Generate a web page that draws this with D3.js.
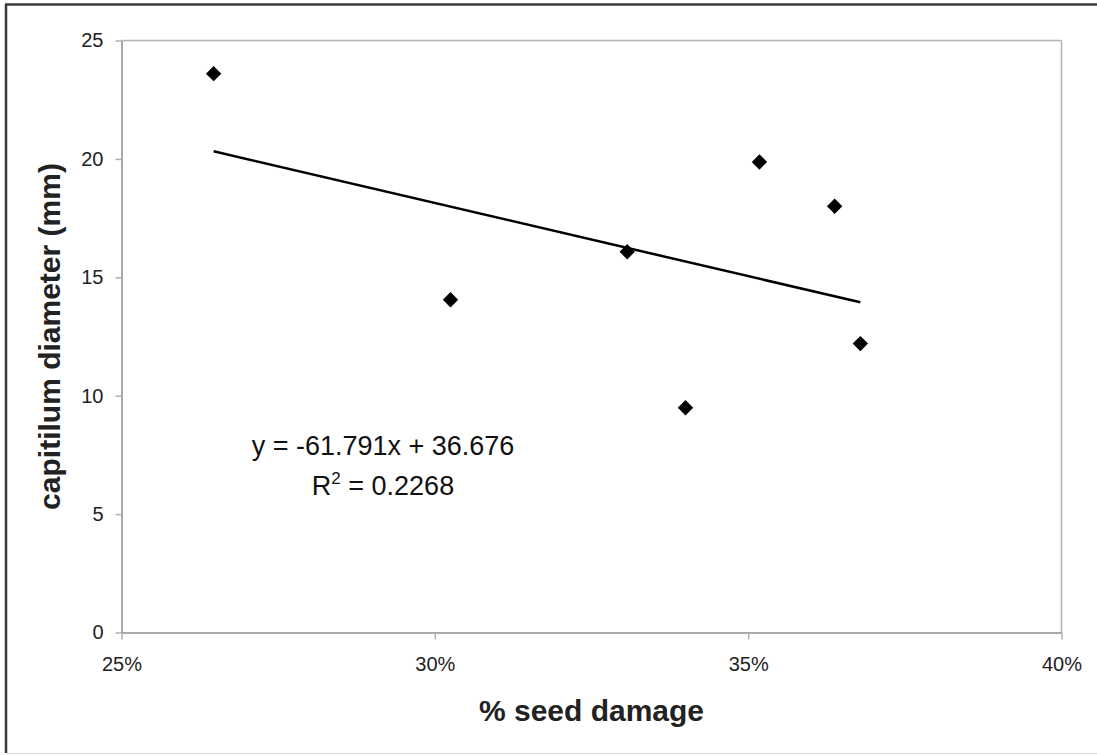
<!DOCTYPE html>
<html>
<head>
<meta charset="utf-8">
<script src="https://cdn.jsdelivr.net/npm/d3@7"></script>
<style>
  html, body { margin: 0; padding: 0; background: #fff; }
  svg { display: block; font-family: "Liberation Sans", Arial, sans-serif; }
</style>
</head>
<body>
<svg id="chart" width="1097" height="755"></svg>
<script>
// Seed damage fraction vs capitulum diameter (mm)
const seedDamage = [0.2647, 0.3025, 0.3307, 0.3400, 0.3518, 0.3638, 0.3679];
const diameter   = [23.6, 14.05, 16.08, 9.49, 19.87, 18.0, 12.2];

// Linear trend y = slope * x + intercept
const slope = -61.791;
const intercept = 36.676;
const rSquared = "0.2268";

const xTicks = [0.25, 0.30, 0.35, 0.40];
const yTicks = [0, 5, 10, 15, 20, 25];

const svg = d3.select("#chart");
const W = 1097, H = 755;
const plot = { left: 121.5, top: 40.5, right: 1061.5, bottom: 632.5 };
const FONT = "'Liberation Sans', Arial, sans-serif";

// Outer frame
svg.append("line").attr("x1", 6).attr("y1", 4).attr("x2", 6).attr("y2", 753)
  .attr("stroke", "#3a3a3a").attr("stroke-width", 2.5);
svg.append("line").attr("x1", 5).attr("y1", 4.5).attr("x2", W).attr("y2", 4.5)
  .attr("stroke", "#3a3a3a").attr("stroke-width", 2.5);
svg.append("line").attr("x1", 7).attr("y1", 753.5).attr("x2", W).attr("y2", 753.5)
  .attr("stroke", "#d8d8d8").attr("stroke-width", 1);

const x = d3.scaleLinear().domain([0.25, 0.40]).range([plot.left, plot.right]);
const y = d3.scaleLinear().domain([0, 25]).range([plot.bottom, plot.top]);

// Plot area border (top & right lighter)
svg.append("line").attr("x1", plot.left).attr("x2", plot.right)
  .attr("y1", plot.top).attr("y2", plot.top)
  .attr("stroke", "#b4b4b4").attr("stroke-width", 1.5);
svg.append("line").attr("x1", plot.right).attr("x2", plot.right)
  .attr("y1", plot.top).attr("y2", plot.bottom)
  .attr("stroke", "#b4b4b4").attr("stroke-width", 1.5);

// Axes
const tickFont = "20px";
const xAxis = d3.axisBottom(x).tickValues(xTicks)
  .tickFormat(d3.format(".0%")).tickSizeInner(7).tickSizeOuter(0).tickPadding(17);
const gx = svg.append("g").attr("transform", `translate(0,${plot.bottom})`).call(xAxis);
gx.select(".domain").attr("stroke", "#8c8c8c").attr("stroke-width", 1.5);
gx.selectAll(".tick line").attr("stroke", "#b0b0b0").attr("stroke-width", 1.5);
gx.selectAll(".tick text").attr("fill", "#222").style("font-size", tickFont)
  .style("font-family", FONT);

const yAxis = d3.axisLeft(y).tickValues(yTicks)
  .tickSizeInner(6).tickSizeOuter(0).tickPadding(12);
const gy = svg.append("g").attr("transform", `translate(${plot.left},0)`).call(yAxis);
gy.select(".domain").attr("stroke", "#8c8c8c").attr("stroke-width", 1.5);
gy.selectAll(".tick line").attr("stroke", "#b0b0b0").attr("stroke-width", 1.5);
gy.selectAll(".tick text").attr("fill", "#222").style("font-size", tickFont)
  .style("font-family", FONT);

// Trend line over the data's x range
const xMin = d3.min(seedDamage), xMax = d3.max(seedDamage);
svg.append("line")
  .attr("x1", x(xMin)).attr("y1", y(slope * xMin + intercept))
  .attr("x2", x(xMax)).attr("y2", y(slope * xMax + intercept))
  .attr("stroke", "#000").attr("stroke-width", 2.5);

// Diamond markers
const pts = seedDamage.map((v, i) => ({ x: v, y: diameter[i] }));
svg.append("g").selectAll("path").data(pts).join("path")
  .attr("d", d3.symbol(d3.symbolSquare, 118)())
  .attr("transform", d => `translate(${x(d.x)},${y(d.y)}) rotate(45)`)
  .attr("fill", "#000");

// Equation and R²
svg.append("text").attr("x", 383).attr("y", 455)
  .attr("text-anchor", "middle").style("font-size", "27px").attr("fill", "#111")
  .text(`y = ${slope}x + ${intercept}`);
const r2 = svg.append("text").attr("x", 383).attr("y", 495)
  .attr("text-anchor", "middle").style("font-size", "27px").attr("fill", "#111");
r2.append("tspan").text("R");
r2.append("tspan").attr("dy", -11).style("font-size", "17px").text("2");
r2.append("tspan").attr("dy", 11).text(` = ${rSquared}`);

// Axis titles
svg.append("text").attr("x", (plot.left + plot.right) / 2).attr("y", 721)
  .attr("text-anchor", "middle").style("font-size", "30px").style("font-weight", "bold")
  .attr("fill", "#222").text("% seed damage");
svg.append("text")
  .attr("transform", `translate(60,${(plot.top + plot.bottom) / 2}) rotate(-90)`)
  .attr("text-anchor", "middle").style("font-size", "30px").style("font-weight", "bold")
  .attr("fill", "#222").text("capitilum diameter (mm)");
</script>
</body>
</html>
